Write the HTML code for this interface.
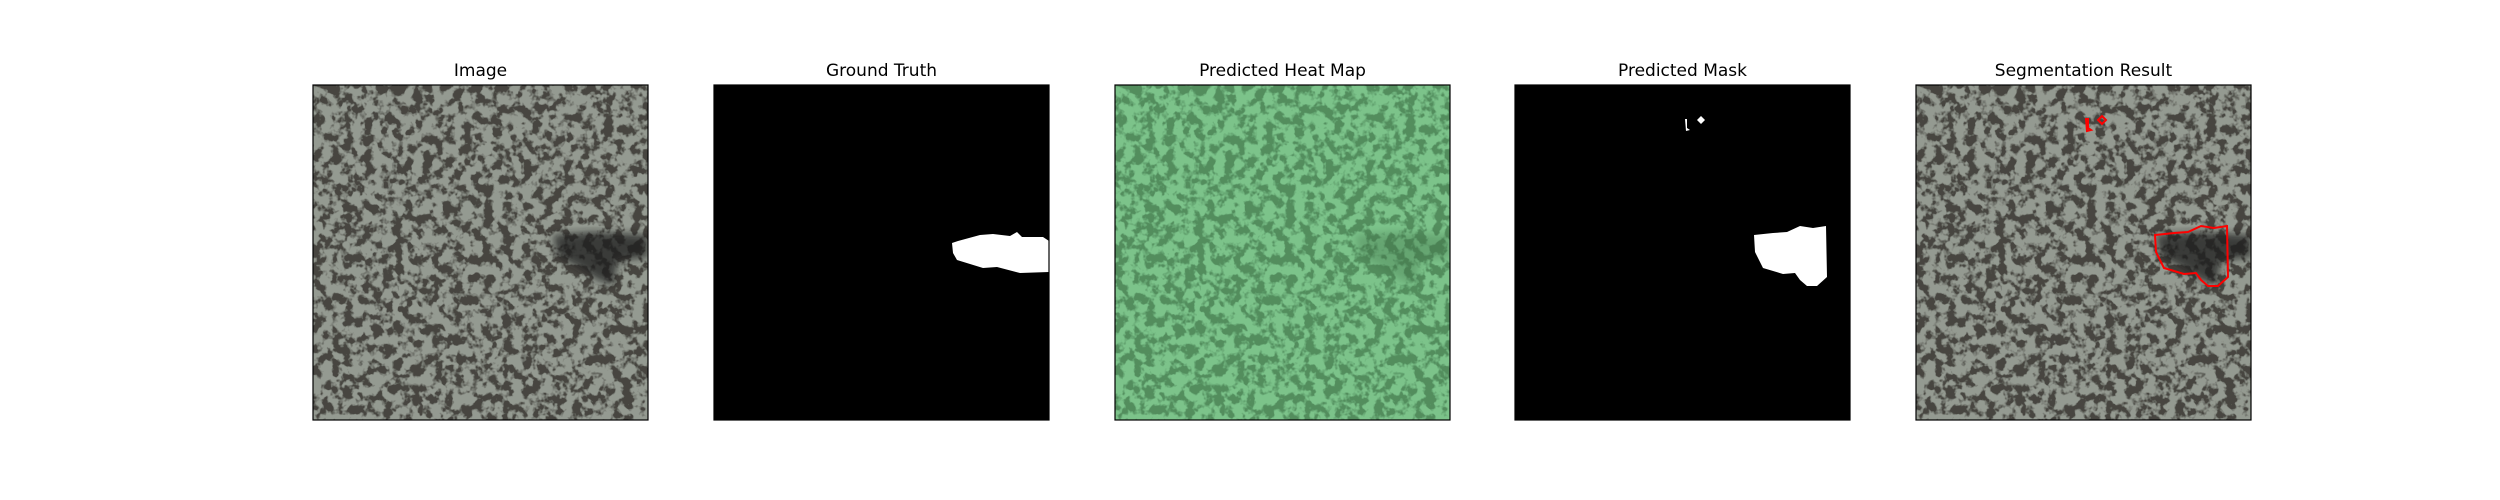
<!DOCTYPE html>
<html><head><meta charset="utf-8">
<style>
html,body{margin:0;padding:0;background:#fff;width:2500px;height:500px;overflow:hidden}
svg{display:block}
text{font-family:"DejaVu Sans","Liberation Sans",sans-serif;font-size:17px;fill:#000}
</style></head>
<body>
<svg id="fig" width="2500" height="500" viewBox="0 0 2500 500">
<defs>
  <filter id="tex" x="0" y="0" width="100%" height="100%">
    <feTurbulence type="fractalNoise" baseFrequency="0.1" numOctaves="3" seed="7" result="n"/>
    <feColorMatrix type="matrix" in="n" values="0 0 0 0 0  0 0 0 0 0  0 0 0 0 0  5 5 0 0 -4.6" result="t"/>
    <feFlood flood-color="#46453f" result="d"/>
    <feComposite in="d" in2="t" operator="in" result="dk"/>
    <feFlood flood-color="#949a91" result="l"/>
    <feMerge><feMergeNode in="l"/><feMergeNode in="dk"/></feMerge>
  </filter>
  <filter id="texg" x="0" y="0" width="100%" height="100%">
    <feTurbulence type="fractalNoise" baseFrequency="0.1" numOctaves="3" seed="7" result="n"/>
    <feColorMatrix type="matrix" in="n" values="0 0 0 0 0  0 0 0 0 0  0 0 0 0 0  5 5 0 0 -4.6" result="t"/>
    <feFlood flood-color="#528d5d" result="d"/>
    <feComposite in="d" in2="t" operator="in" result="dk"/>
    <feFlood flood-color="#7cc38a" result="l"/>
    <feMerge><feMergeNode in="l"/><feMergeNode in="dk"/></feMerge>
  </filter>
  <filter id="blur"><feGaussianBlur stdDeviation="4"/></filter>
</defs>
<g id="panels"></g>
</svg>
<script>
const titles = ["Image","Ground Truth","Predicted Heat Map","Predicted Mask","Segmentation Result"];
const panelLefts = [313,714,1115,1515,1916];
const gtBlob = [[238,158],[244,156],[266,150],[279,149],[296,151],[303,147],[308,152],[329,152],[335,156],[335,187],[306,188],[283,182],[269,183],[243,175],[239,168]];
const predBlob = [[239,150],[258,148],[272,147],[285,141],[298,143],[311,141],[312,192],[302,201],[292,201],[285,195],[280,188],[268,189],[248,183],[240,167]];
const predSmall = [[182,35],[186,31],[190,35],[186,39]];
const predLine = [[170,34],[172,34],[172,43],[175,45],[171,46]];
const defect = [[240,150],[280,147],[335,150],[335,172],[305,176],[300,200],[285,195],[265,182],[245,172]];
const NS="http://www.w3.org/2000/svg";
const S=335, TOP=85;
const g=document.getElementById('panels');
function el(tag,attrs,parent){const e=document.createElementNS(NS,tag);for(const k in attrs)e.setAttribute(k,attrs[k]);(parent||g).appendChild(e);return e;}
function pts(a){return a.map(p=>p.join(',')).join(' ');}
panelLefts.forEach((L,i)=>{
  const pg=el('g',{transform:`translate(${L},${TOP})`});
  
  
  const cp=el('clipPath',{id:'c'+i},pg);el('rect',{x:0,y:0,width:S,height:S},cp);
  const inner=el('g',{'clip-path':`url(#c${i})`},pg);
  if(i===0||i===4){
    el('rect',{x:0,y:0,width:S,height:S,filter:'url(#tex)'},inner);
    const d=el('polygon',{points:pts(defect),fill:'#1a1b1e',opacity:0.75,filter:'url(#blur)'},inner);
    
    
  } else if(i===2){
    el('rect',{x:0,y:0,width:S,height:S,filter:'url(#texg)'},inner);
    el('polygon',{points:pts(defect),fill:'#3d6e45',opacity:0.35,filter:'url(#blur)'},inner);
  } else {
    el('rect',{x:0,y:0,width:S,height:S,fill:'#000'},inner);
    if(i===1){const b=el('polygon',{points:pts(gtBlob),fill:'#fff'},inner);
      
      }
    if(i===3){[predBlob,predSmall,predLine].forEach(a=>{const b=el('polygon',{points:pts(a),fill:'#fff'},inner);
      
      });}
  }
  if(i===4){[predBlob,predSmall,predLine].forEach(a=>{const b=el('polygon',{points:pts(a),fill:'none',stroke:'#ff0000','stroke-width':2},inner);
    
    });
  }
  const fr=el('rect',{x:0,y:0,width:S,height:S,fill:'none',stroke:'#000','stroke-width':1.2},pg);
  
  
  const t=el('text',{x:S/2,y:-9,'text-anchor':'middle'},pg);
  t.textContent=titles[i];
  
  
});
</script>
</body></html>
